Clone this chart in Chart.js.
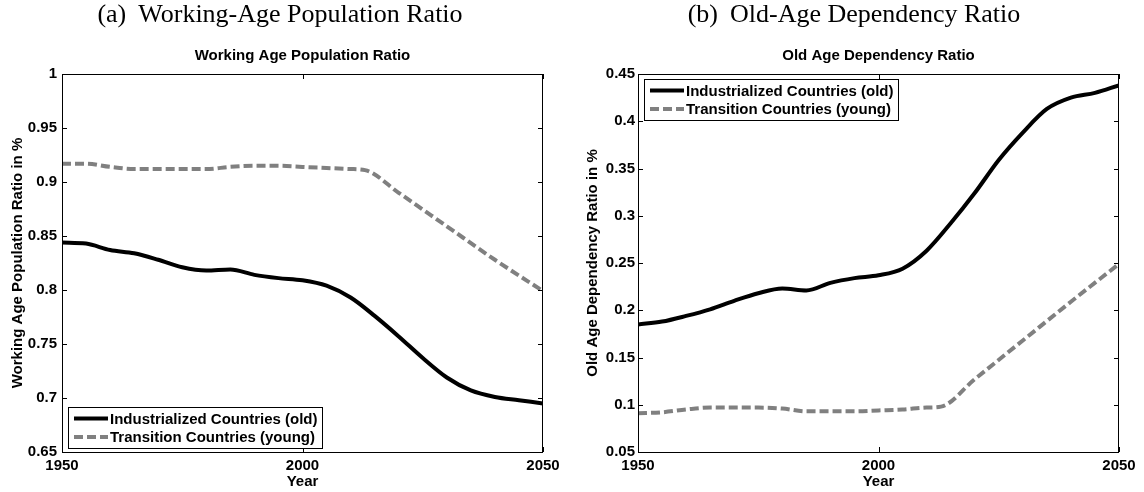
<!DOCTYPE html>
<html>
<head>
<meta charset="utf-8">
<script src="https://cdn.jsdelivr.net/npm/chart.js@4.4.1/dist/chart.umd.min.js"></script>
<style>
    html, body { margin: 0; padding: 0; background: #fff; }
    #page { position: relative; width: 1144px; height: 492px; overflow: hidden; }
    .panel { position: absolute; top: 0; width: 572px; height: 492px; }
    .caption {
        position: absolute; top: -1px; transform: translateX(-50%);
        font: 26px 'Liberation Serif', 'Times New Roman', serif;
        white-space: nowrap; color: #000;
    }
    .caption span { margin-left: 12px; }
</style>
</head>
<body>
<div id="page">
    <div class="panel" style="left:0"><canvas id="workChart"></canvas></div>
    <div class="panel" style="left:572px"><canvas id="depChart"></canvas></div>
    <div class="caption" style="left:280px">(a)<span>Working-Age Population Ratio</span></div>
    <div class="caption" style="left:854px">(b)<span>Old-Age Dependency Ratio</span></div>
</div>
<script>
// 5-year grid for the smooth curves
const years = [1950, 1955, 1960, 1965, 1970, 1975, 1980, 1985, 1990, 1995, 2000,
    2005, 2010, 2015, 2020, 2025, 2030, 2035, 2040, 2045, 2050];
// transition series bends around 2013, then runs straight
const transYears = [1950, 1955, 1960, 1965, 1970, 1975, 1980, 1985, 1990, 1995, 2000,
    2005, 2010, 2013, 2020, 2030, 2040, 2050];
const yearTicks = [1950, 2000, 2050];

const workIndustrial = [0.844, 0.843, 0.837, 0.834, 0.828, 0.821, 0.818, 0.819, 0.814, 0.811, 0.809,
    0.804, 0.793, 0.776, 0.757, 0.737, 0.719, 0.707, 0.701, 0.698, 0.695];
const workTransition = [0.917, 0.917, 0.914, 0.912, 0.912, 0.912, 0.912, 0.914, 0.915, 0.915, 0.914,
    0.913, 0.912, 0.911, 0.890, 0.859, 0.828, 0.799];

const depIndustrial = [0.185, 0.188, 0.194, 0.201, 0.210, 0.218, 0.223, 0.221, 0.229, 0.234, 0.237,
    0.244, 0.263, 0.292, 0.324, 0.359, 0.388, 0.413, 0.425, 0.430, 0.438];
const depTransition = [0.091, 0.092, 0.095, 0.097, 0.097, 0.097, 0.096, 0.093, 0.093, 0.093, 0.094,
    0.095, 0.097, 0.098, 0.127, 0.168, 0.209, 0.249];

const seriesLabels = ['Industrialized Countries (old)', 'Transition Countries (young)'];

Chart.defaults.font.family = "'Liberation Sans', Arial, Helvetica, sans-serif";
Chart.defaults.font.weight = 'bold';
Chart.defaults.color = '#000';

// box frame with inward ticks + legend box inside the plot (matlab look)
const matlabBox = {
    id: 'matlabBox',
    afterDatasetsDraw(chart, args, opts) {
        const { ctx, chartArea: a } = chart;
        const x = chart.scales.x, y = chart.scales.y;
        ctx.save();
        ctx.strokeStyle = '#000';
        ctx.lineWidth = 1;
        ctx.setLineDash([]);
        ctx.beginPath();
        x.ticks.forEach(t => {
            const px = Math.round(x.getPixelForValue(t.value)) + 0.5;
            ctx.moveTo(px, a.top); ctx.lineTo(px, a.top + 5);
            ctx.moveTo(px, a.bottom); ctx.lineTo(px, a.bottom - 5);
        });
        y.ticks.forEach(t => {
            const py = Math.round(y.getPixelForValue(t.value)) + 0.5;
            ctx.moveTo(a.left, py); ctx.lineTo(a.left + 5, py);
            ctx.moveTo(a.right, py); ctx.lineTo(a.right - 5, py);
        });
        ctx.stroke();
        ctx.strokeRect(Math.round(a.left) + 0.5, Math.round(a.top) + 0.5,
            Math.round(a.width) - 1, Math.round(a.height));

        // legend
        const sets = chart.data.datasets;
        ctx.font = "bold 15px 'Liberation Sans', Arial, sans-serif";
        const textW = Math.max(...sets.map(d => ctx.measureText(d.label).width));
        const w = Math.round(42 + textW + 4), h = 41;
        const bx = Math.round(a.left) + 6;
        const by = opts.corner === 'top' ? Math.round(a.top) + 5 : Math.round(a.bottom) - 4 - h;
        ctx.fillStyle = '#fff';
        ctx.fillRect(bx, by, w, h);
        ctx.strokeRect(bx + 0.5, by + 0.5, w, h);
        sets.forEach((d, i) => {
            const cy = by + 11.5 + i * 18.5;
            ctx.beginPath();
            ctx.setLineDash(d.borderDash || []);
            ctx.strokeStyle = d.borderColor;
            ctx.lineWidth = d.borderWidth;
            ctx.moveTo(bx + 6, cy);
            ctx.lineTo(bx + 40, cy);
            ctx.stroke();
            ctx.setLineDash([]);
            ctx.fillStyle = '#000';
            ctx.textBaseline = 'middle';
            ctx.textAlign = 'left';
            ctx.fillText(d.label, bx + 42, cy + 1);
        });
        ctx.restore();
    }
};

function toPoints(xs, ys) {
    return xs.map((yr, i) => ({ x: yr, y: ys[i] }));
}

function makeChart(id, o) {
    return new Chart(document.getElementById(id), {
        type: 'line',
        data: {
            datasets: [{
                label: seriesLabels[0],
                data: toPoints(years, o.industrial),
                borderColor: '#000',
                borderWidth: 4,
                pointRadius: 0,
                cubicInterpolationMode: 'monotone'
            }, {
                label: seriesLabels[1],
                data: toPoints(transYears, o.transition),
                borderColor: '#808080',
                borderWidth: 4,
                borderDash: [9, 4],
                borderCapStyle: 'butt',
                pointRadius: 0,
                cubicInterpolationMode: 'monotone'
            }]
        },
        options: {
            responsive: true,
            maintainAspectRatio: false,
            animation: false,
            layout: { padding: { left: 0, right: o.padRight, top: 0, bottom: 0 } },
            plugins: {
                legend: { display: false },
                tooltip: { enabled: false },
                title: {
                    display: true,
                    fullSize: false,
                    text: o.title,
                    color: '#000',
                    font: { size: 15, weight: 'bold' },
                    padding: { top: 47, bottom: 9 }
                },
                matlabBox: { corner: o.corner }
            },
            scales: {
                x: {
                    type: 'linear',
                    min: yearTicks[0],
                    max: yearTicks[yearTicks.length - 1],
                    grid: { display: false, drawTicks: false },
                    border: { display: false },
                    ticks: {
                        stepSize: yearTicks[1] - yearTicks[0],
                        padding: 5,
                        maxRotation: 0,
                        font: { size: 15 },
                        callback: v => String(v)
                    },
                    title: { display: true, text: 'Year', font: { size: 15 }, padding: { top: 0, bottom: 1 } },
                    afterFit: s => { s.height = 40; }
                },
                y: {
                    type: 'linear',
                    min: o.yMin,
                    max: o.yMax,
                    grid: { display: false, drawTicks: false },
                    border: { display: false },
                    ticks: {
                        stepSize: 0.05,
                        padding: o.tickPad,
                        font: { size: 15 },
                        callback: v => String(+v.toFixed(2))
                    },
                    title: { display: true, text: o.yTitle, font: { size: 15 }, padding: { top: o.titlePad, bottom: 0 } },
                    afterFit: s => { s.width = o.yWidth; }
                }
            }
        },
        plugins: [matlabBox]
    });
}

makeChart('workChart', {
    title: 'Working Age Population Ratio',
    yTitle: 'Working Age Population Ratio in %',
    industrial: workIndustrial,
    transition: workTransition,
    yMin: 0.65, yMax: 1,
    yWidth: 62, padRight: 29, tickPad: 5, titlePad: 9,
    corner: 'bottom'
});

makeChart('depChart', {
    title: 'Old Age Dependency Ratio',
    yTitle: 'Old Age Dependency Ratio in %',
    industrial: depIndustrial,
    transition: depTransition,
    yMin: 0.05, yMax: 0.45,
    yWidth: 66, padRight: 25, tickPad: 3, titlePad: 12,
    corner: 'top'
});
</script>
</body>
</html>
